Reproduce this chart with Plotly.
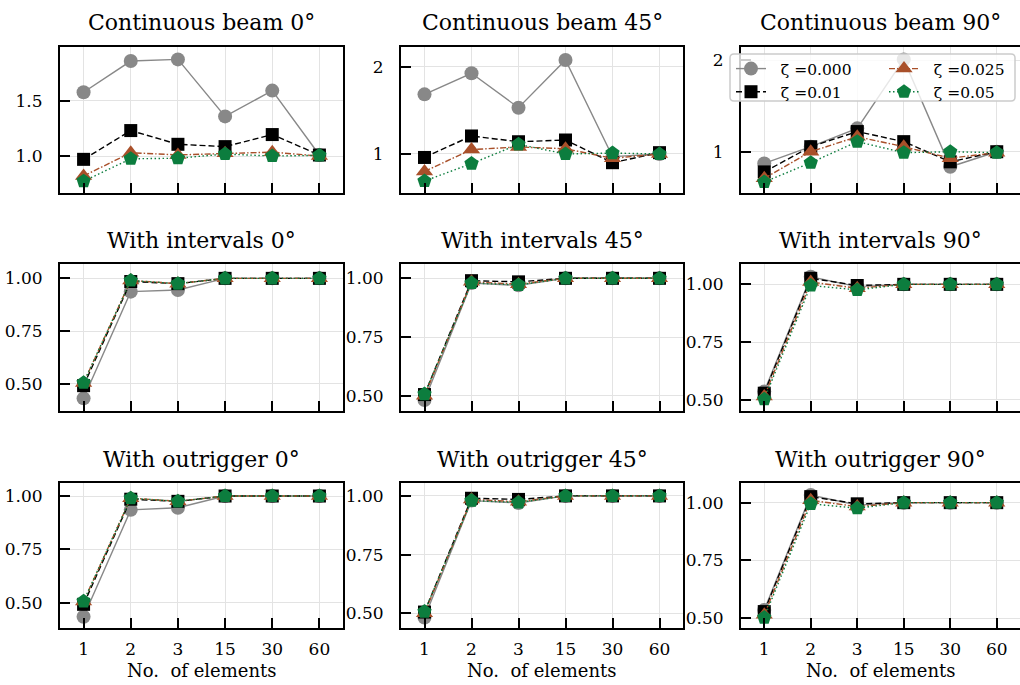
import plotly.graph_objects as go

# Number of elements along the x axis (categorical)
elements = ["1", "2", "3", "15", "30", "60"]

# Damping ratios shown in the legend
zeta_labels = ["ζ =0.000", "ζ =0.01", "ζ =0.025", "ζ =0.05"]

# Continuous beam, 0°
beam0_z0000 = [1.576, 1.858, 1.873, 1.358, 1.591, 1.009]
beam0_z0010 = [0.970, 1.230, 1.106, 1.085, 1.194, 1.009]
beam0_z0025 = [0.820, 1.030, 1.010, 1.025, 1.035, 1.000]
beam0_z0050 = [0.773, 0.975, 0.980, 1.018, 1.000, 1.006]

# Continuous beam, 45°
beam45_z0000 = [1.683, 1.924, 1.530, 2.076, 0.970, 1.000]
beam45_z0010 = [0.960, 1.206, 1.140, 1.160, 0.900, 1.015]
beam45_z0025 = [0.800, 1.050, 1.080, 1.060, 0.950, 1.000]
beam45_z0050 = [0.690, 0.890, 1.110, 1.000, 1.010, 1.000]

# Continuous beam, 90°
beam90_z0000 = [0.873, 1.055, 1.255, 2.007, 0.836, 1.000]
beam90_z0010 = [0.780, 1.055, 1.220, 1.110, 0.890, 1.000]
beam90_z0025 = [0.710, 1.000, 1.164, 1.055, 0.930, 0.990]
beam90_z0050 = [0.670, 0.880, 1.110, 0.990, 1.000, 0.990]

# With intervals, 0°
int0_z0000 = [0.432, 0.937, 0.945, 1.000, 1.000, 1.000]
int0_z0010 = [0.492, 0.985, 0.975, 1.000, 1.000, 1.000]
int0_z0025 = [0.505, 0.990, 0.975, 1.000, 1.000, 1.000]
int0_z0050 = [0.506, 0.990, 0.975, 1.000, 1.000, 1.000]

# With intervals, 45°
int45_z0000 = [0.482, 0.980, 0.970, 1.000, 1.000, 1.000]
int45_z0010 = [0.505, 0.990, 0.985, 1.000, 1.000, 1.000]
int45_z0025 = [0.500, 0.985, 0.975, 1.000, 1.000, 1.000]
int45_z0050 = [0.507, 0.980, 0.972, 1.000, 1.000, 1.000]

# With intervals, 90°
int90_z0000 = [0.536, 1.033, 0.990, 1.000, 1.000, 1.000]
int90_z0010 = [0.529, 1.026, 0.995, 1.000, 1.000, 1.000]
int90_z0025 = [0.515, 1.010, 0.983, 1.000, 1.000, 1.000]
int90_z0050 = [0.503, 0.995, 0.976, 1.000, 1.000, 1.000]

# With outrigger, 0°
out0_z0000 = [0.434, 0.935, 0.945, 1.000, 1.000, 1.000]
out0_z0010 = [0.492, 0.985, 0.975, 1.000, 1.000, 1.000]
out0_z0025 = [0.505, 0.990, 0.975, 1.000, 1.000, 1.000]
out0_z0050 = [0.506, 0.990, 0.975, 1.000, 1.000, 1.000]

# With outrigger, 45°
out45_z0000 = [0.482, 0.980, 0.970, 1.000, 1.000, 1.000]
out45_z0010 = [0.505, 0.990, 0.985, 1.000, 1.000, 1.000]
out45_z0025 = [0.500, 0.985, 0.975, 1.000, 1.000, 1.000]
out45_z0050 = [0.507, 0.980, 0.972, 1.000, 1.000, 1.000]

# With outrigger, 90°
out90_z0000 = [0.536, 1.033, 0.990, 1.000, 1.000, 1.000]
out90_z0010 = [0.529, 1.026, 0.995, 1.000, 1.000, 1.000]
out90_z0025 = [0.515, 1.010, 0.983, 1.000, 1.000, 1.000]
out90_z0050 = [0.503, 0.995, 0.976, 1.000, 1.000, 1.000]

panel_titles = [
    "Continuous beam 0°", "Continuous beam 45°", "Continuous beam 90°",
    "With intervals 0°", "With intervals 45°", "With intervals 90°",
    "With outrigger 0°", "With outrigger 45°", "With outrigger 90°",
]

panel_series = [
    [beam0_z0000, beam0_z0010, beam0_z0025, beam0_z0050],
    [beam45_z0000, beam45_z0010, beam45_z0025, beam45_z0050],
    [beam90_z0000, beam90_z0010, beam90_z0025, beam90_z0050],
    [int0_z0000, int0_z0010, int0_z0025, int0_z0050],
    [int45_z0000, int45_z0010, int45_z0025, int45_z0050],
    [int90_z0000, int90_z0010, int90_z0025, int90_z0050],
    [out0_z0000, out0_z0010, out0_z0025, out0_z0050],
    [out45_z0000, out45_z0010, out45_z0025, out45_z0050],
    [out90_z0000, out90_z0010, out90_z0025, out90_z0050],
]

# Y ranges and ticks per panel
y_ranges = [
    [0.666, 1.985], [0.553, 2.225], [0.550, 2.142],
    [0.372, 1.068], [0.435, 1.061], [0.452, 1.088],
    [0.381, 1.061], [0.437, 1.055], [0.458, 1.085],
]
fine_ticks = ([0.5, 0.75, 1.0], ["0.50", "0.75", "1.00"])
y_ticks = [
    ([1.0, 1.5], ["1.0", "1.5"]), ([1, 2], ["1", "2"]), ([1, 2], ["1", "2"]),
    fine_ticks, fine_ticks, fine_ticks,
    fine_ticks, fine_ticks, fine_ticks,
]

# Series styling
colors = ["#888888", "#000000", "#a9502a", "#0c7d3e"]
symbols = ["circle", "square", "triangle-up", "pentagon"]
marker_sizes = [14, 13, 15, 15]
dashes = ["solid", "6px,3px", "6px,2px,1.5px,2px", "1.5px,2.5px"]
legend_ids = ["legend", "legend", "legend2", "legend2"]

FONT = "DejaVu Serif"
W, H = 1020, 685
col_px = [(60, 343), (401, 683), (741, 1020)]
row_px = [(47, 193), (264, 411), (483, 628)]


def px_x(v):
    return v / W


def px_y(v):
    return 1 - v / H


legend_style = dict(
    orientation="v", xanchor="left", yanchor="top",
    bgcolor="rgba(0,0,0,0)", borderwidth=0, tracegroupgap=0,
    font=dict(family=FONT, size=15.5, color="black"), itemwidth=30,
)

fig = go.Figure()
layout = dict(
    width=W, height=H,
    margin=dict(l=0, r=0, t=0, b=0, autoexpand=False),
    paper_bgcolor="white", plot_bgcolor="white",
    font=dict(family=FONT, size=17, color="black"),
    showlegend=True,
    legend=dict(legend_style, x=px_x(731), y=px_y(52)),
    legend2=dict(legend_style, x=px_x(884), y=px_y(52)),
)
annotations = []

for p in range(9):
    r, c = divmod(p, 3)
    n = p + 1
    xa = "x" if n == 1 else f"x{n}"
    ya = "y" if n == 1 else f"y{n}"
    x0, x1 = col_px[c]
    y0, y1 = row_px[r]
    axis_common = dict(
        showline=True, mirror=True, linecolor="black", linewidth=2,
        ticks="inside", ticklen=10, tickwidth=2, tickcolor="black",
        showgrid=True, gridcolor="#e3e3e3", gridwidth=1, zeroline=False,
        tickfont=dict(family=FONT, size=17, color="black"),
    )
    layout[f"xaxis{n}"] = dict(
        axis_common, domain=[px_x(x0), px_x(x1)], anchor=ya,
        type="category", range=[-0.5, 5.5],
        categoryorder="array", categoryarray=elements,
        showticklabels=(r == 2), ticklabelstandoff=5,
    )
    tv, tt = y_ticks[p]
    layout[f"yaxis{n}"] = dict(
        axis_common, domain=[px_y(y1), px_y(y0)], anchor=xa,
        range=y_ranges[p], tickmode="array", tickvals=tv, ticktext=tt,
        ticklabelstandoff=12,
    )
    for k in range(4):
        fig.add_trace(go.Scatter(
            x=elements, y=panel_series[p][k], xaxis=xa, yaxis=ya,
            mode="lines+markers", name="\u00a0\u00a0" + zeta_labels[k],
            legend=legend_ids[k], showlegend=(p == 0),
            line=dict(color=colors[k], width=1.4, dash=dashes[k]),
            marker=dict(symbol=symbols[k], size=marker_sizes[k], color=colors[k],
                        line=dict(width=0)),
        ))
    title_y = [23, 241, 460][r]
    annotations.append(dict(
        text=panel_titles[p], xref="paper", yref="paper",
        x=px_x((x0 + x1) / 2), y=px_y(title_y), xanchor="center", yanchor="middle",
        showarrow=False, font=dict(family=FONT, size=22, color="black"),
    ))
    if r == 2:
        annotations.append(dict(
            text="No.\u00a0 of elements", xref="paper", yref="paper",
            x=px_x((x0 + x1) / 2), y=px_y(670), xanchor="center", yanchor="middle",
            showarrow=False, font=dict(family=FONT, size=18, color="black"),
        ))

# Rounded, semi-transparent frame behind the two legend columns
bx0, bx1, by0, by1, rad = 730, 1015, 54, 101, 4
frame_path = (
    f"M {px_x(bx0 + rad)} {px_y(by0)} L {px_x(bx1 - rad)} {px_y(by0)} "
    f"Q {px_x(bx1)} {px_y(by0)} {px_x(bx1)} {px_y(by0 + rad)} "
    f"L {px_x(bx1)} {px_y(by1 - rad)} Q {px_x(bx1)} {px_y(by1)} {px_x(bx1 - rad)} {px_y(by1)} "
    f"L {px_x(bx0 + rad)} {px_y(by1)} Q {px_x(bx0)} {px_y(by1)} {px_x(bx0)} {px_y(by1 - rad)} "
    f"L {px_x(bx0)} {px_y(by0 + rad)} Q {px_x(bx0)} {px_y(by0)} {px_x(bx0 + rad)} {px_y(by0)} Z"
)
layout["shapes"] = [dict(
    type="path", path=frame_path, xref="paper", yref="paper", layer="above",
    fillcolor="rgba(255,255,255,0.8)", line=dict(color="#cccccc", width=1.5),
)]

layout["annotations"] = annotations
fig.update_layout(**layout)
fig.write_html("out.html")
